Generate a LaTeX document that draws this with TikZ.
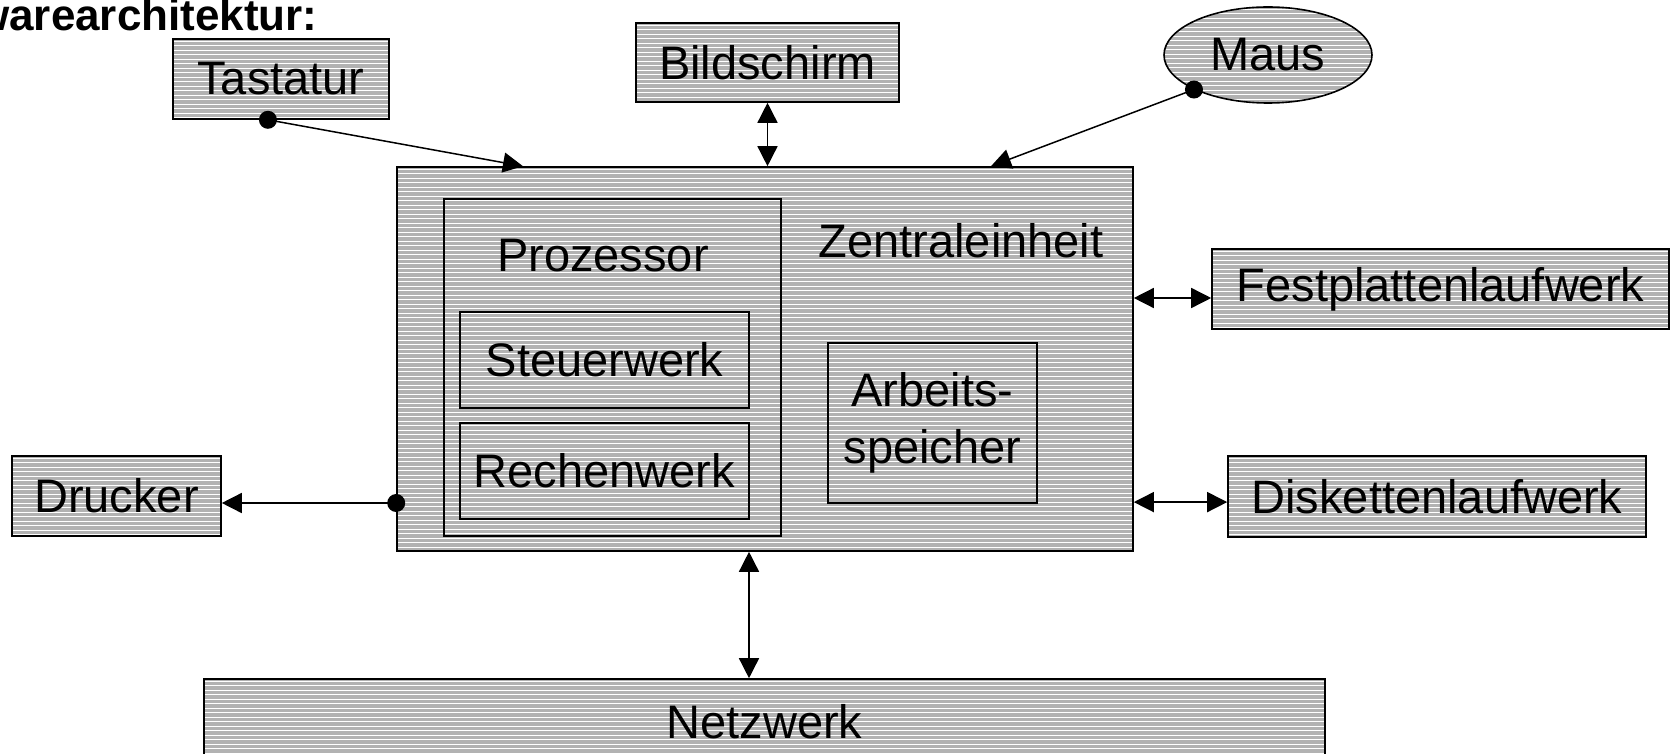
\documentclass[tikz,border=0pt]{standalone}
\usepackage{fontspec}
\setmainfont{Liberation Sans}
\usetikzlibrary{arrows.meta,shapes.geometric,calc}
\definecolor{hatchgray}{RGB}{178,178,178}
\begin{document}
\begin{tikzpicture}[x=0.5pt,y=-0.5pt,
  hatch/.style={fill=hatchgray,
    path picture={\foreach \k in {0,...,90}{
      \draw[white,line width=0.55pt]
        ([yshift={-\k*2.25pt-1.2pt}]path picture bounding box.north west) --
        ([yshift={-\k*2.25pt-1.2pt}]path picture bounding box.north east);}}},
  lbl/.style={inner sep=0pt, font=\fontsize{23.5}{26.5}\selectfont, align=center},
  box/.style={lbl, draw=black, line width=0.8pt, rectangle},
  hbox/.style={box, hatch},
  tip/.tip={Triangle[length=10pt,width=10pt]},
  conn/.style={line width=0.75pt, -tip},
  biconn/.style={line width=0.75pt, tip-tip},
  dot/.style={fill=black},
]
\useasboundingbox (0,0) rectangle (1674,754);

% title (cut off by the page edge)
\node[anchor=base east, inner sep=0pt, font=\fontsize{22}{26}\selectfont\bfseries] (title) at (318,31) {Hardwarearchitektur:};

% central unit and its parts
\node[hbox, minimum width=368pt, minimum height=192pt] (ze) at (765,359) {};
\node[lbl] (zelabel) at (961,241) {Zentraleinheit};
\node[box, minimum width=168.5pt, minimum height=168.5pt] (proz) at (612.5,367.5) {};
\node[lbl] (prozlabel) at (603,256) {Prozessor};
\node[box, minimum width=144.5pt, minimum height=48pt] (steuer) at (604.5,360) {Steuerwerk};
\node[box, minimum width=144.5pt, minimum height=48pt] (rechen) at (604.5,471) {Rechenwerk};
\node[box, minimum width=104.5pt, minimum height=80pt, font=\fontsize{23.5}{28.5}\selectfont] (arbeit) at (932.5,423) {Arbeits-\\speicher};

% peripherals
\node[hbox, minimum width=108pt, minimum height=40pt] (tast) at (281,79) {Tastatur};
\node[hbox, minimum width=131.5pt, minimum height=39.5pt] (bild) at (767.5,62.5) {Bildschirm};
\node[lbl, draw=black, line width=0.8pt, hatch, ellipse, minimum width=104pt, minimum height=48pt] (maus) at (1268,55) {Maus};
\node[hbox, minimum width=228.5pt, minimum height=40pt] (fest) at (1440.5,289) {Festplattenlaufwerk};
\node[hbox, minimum width=209pt, minimum height=40.5pt] (disk) at (1437,496.5) {Diskettenlaufwerk};
\node[hbox, minimum width=104.5pt, minimum height=40pt] (druck) at (116.5,496) {Drucker};
\node[hbox, minimum width=560.5pt, minimum height=43pt] (netz) at (764.5,722) {Netzwerk};

% connector end points
\coordinate (tdot) at ($(tast.south west)!0.44!(tast.south east)$);
\coordinate (tend) at (523,0);
\coordinate (mdot) at (maus.205);
\coordinate (mend) at (991,0);
\coordinate (fa) at ([yshift=-4.5pt]fest.west);
\coordinate (da) at ([yshift=-2.8pt]disk.west);
\coordinate (pa) at ([yshift=-3.5pt]druck.east);
\coordinate (na) at (749,0);

% connectors
\draw[conn] (tdot) -- (tend |- ze.north);
\fill[dot] (tdot) circle (4.5pt);
\draw[conn] (mdot) -- (mend |- ze.north);
\fill[dot] (mdot) circle (4.5pt);
\draw[biconn] (bild.south) -- (bild.south |- ze.north);
\draw[biconn] (fa -| ze.east) -- (fa);
\draw[biconn] (da -| ze.east) -- (da);
\draw[conn] (pa -| ze.west) -- (pa);
\fill[dot] (pa -| ze.west) circle (4.5pt);
\draw[biconn] (na |- ze.south) -- (na |- netz.north);
\end{tikzpicture}
\end{document}
